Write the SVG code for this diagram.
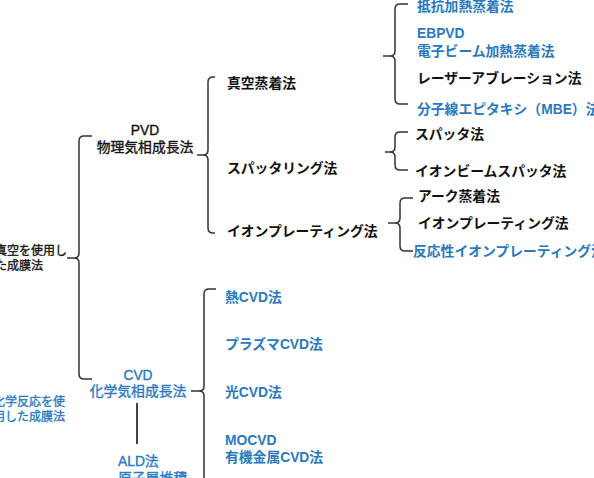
<svg xmlns="http://www.w3.org/2000/svg" width="594" height="478" viewBox="0 0 594 478">
<style>
text{font-family:"Liberation Sans","Noto Sans CJK JP",sans-serif;font-size:13.8px;fill:#111}
.b{fill:#2b79bb}
.w{font-weight:bold}
.s{font-size:12px}
.m{stroke:#111;stroke-width:0.35}
.m.b{stroke:#2b79bb}
.br{fill:none;stroke:#333;stroke-width:1.5}
.ln{stroke:#444;stroke-width:2}
</style>
<rect width="594" height="478" fill="#fff"/>
<g id="connectors">
<path class="br" d="M92,136 H84 Q79,136 79,141 V253 Q79,258 74,258 H67 M74,258 Q79,258 79,263 V374 Q79,379 84,379 H92"/>
<path class="br" d="M215,77 H213 Q208,77 208,82 V150 Q208,155 203,155 H197 M203,155 Q208,155 208,160 V228 Q208,233 213,233 H215"/>
<path class="br" d="M408,4 H400 Q395,4 395,9 V51 Q395,56 390,56 H383 M390,56 Q395,56 395,61 V99 Q395,104 400,104 H408"/>
<path class="br" d="M408,132 H400 Q395,132 395,137 V147 Q395,152 390,152 H385 M390,152 Q395,152 395,157 V165 Q395,170 400,170 H408"/>
<path class="br" d="M413,198 H405 Q400,198 400,203 V218 Q400,223 395,223 H388 M395,223 Q400,223 400,228 V246 Q400,251 405,251 H413"/>
<path class="br" d="M216,289 H209 Q204,289 204,294 V386 Q204,391 199,391 H191 M199,391 Q204,391 204,396 V500"/>
<line class="ln" x1="137" y1="403" x2="137" y2="444"/>
</g>
<g id="root"><text class="s m" x="-5" y="255">真空を使用し</text><text class="s m" x="-5" y="270">た成膜法</text></g>
<g id="root2"><text class="s m b" x="-7" y="406">化学反応を使</text><text class="s m b" x="-7" y="421">用した成膜法</text></g>
<g id="pvd"><text class="m" x="145" y="135" text-anchor="middle">PVD</text><text class="m" x="145" y="152" text-anchor="middle">物理気相成長法</text></g>
<g id="cvd"><text class="m b" x="138" y="380" text-anchor="middle">CVD</text><text class="m b" x="138" y="396" text-anchor="middle">化学気相成長法</text></g>
<g id="ald"><text class="m b" x="118" y="466">ALD法</text><text class="m b" x="118" y="483">原子層堆積</text></g>
<g id="vac"><text class="w" x="227" y="88">真空蒸着法</text></g>
<g id="sput"><text class="w" x="227" y="173">スパッタリング法</text></g>
<g id="ionp"><text class="w" x="227" y="236">イオンプレーティング法</text></g>
<g id="v1"><text class="w b" x="417" y="11">抵抗加熱蒸着法</text></g>
<g id="v2"><text class="w b" x="417" y="38">EBPVD</text><text class="w b" x="417" y="56">電子ビーム加熱蒸着法</text></g>
<g id="v3"><text class="w" x="417" y="83">レーザーアブレーション法</text></g>
<g id="v4"><text class="w b" x="417" y="114">分子線エピタキシ（MBE）法</text></g>
<g id="s1"><text class="w" x="415" y="139">スパッタ法</text></g>
<g id="s2"><text class="w" x="415" y="176">イオンビームスパッタ法</text></g>
<g id="i1"><text class="w" x="418" y="201">アーク蒸着法</text></g>
<g id="i2"><text class="w" x="418" y="228">イオンプレーティング法</text></g>
<g id="i3"><text class="w b" x="413" y="256">反応性イオンプレーティング法</text></g>
<g id="c1"><text class="w b" x="225" y="302">熱CVD法</text></g>
<g id="c2"><text class="w b" x="225" y="349">プラズマCVD法</text></g>
<g id="c3"><text class="w b" x="225" y="397">光CVD法</text></g>
<g id="c4"><text class="w b" x="225" y="445">MOCVD</text><text class="w b" x="225" y="462">有機金属CVD法</text></g>
</svg>
